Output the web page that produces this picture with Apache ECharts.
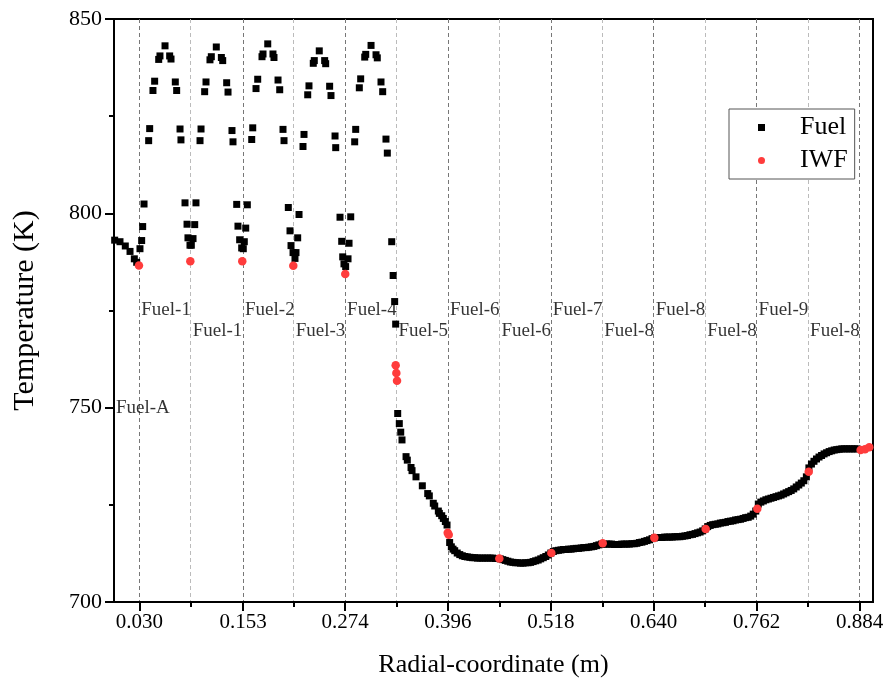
<!DOCTYPE html>
<html><head><meta charset="utf-8">
<script src="https://cdn.jsdelivr.net/npm/echarts@6/dist/echarts.min.js"></script>
<style>html,body{margin:0;padding:0;background:#fff;overflow:hidden}#c{width:889px;height:689px}</style>
</head><body><div id="c"></div><script>
// ---- axis ticks ----
const xMajorTicks = [0.030, 0.153, 0.274, 0.396, 0.518, 0.640, 0.762, 0.884];
const xMinorTicks = [0.091, 0.213, 0.335, 0.457, 0.579, 0.701, 0.823];
const yMin = 700, yMax = 850, yStep = 50;
const xMin = 0, xMax = 0.9;

// ---- Fuel (black squares) ----
const fuelA = [[0.0008,793.1],[0.0071,792.7],[0.0134,791.6],[0.0190,790.2],[0.0241,788.3],[0.0269,787.4]];
const fuel1 = [[0.0308,790.9],[0.0328,793.0],[0.0340,796.6],[0.0356,802.4],[0.0411,818.7],[0.0423,821.8],[0.0462,831.6],[0.0482,834.0],[0.0530,839.6],[0.0545,840.5],[0.0605,843.1],[0.0660,840.5],[0.0676,839.7],[0.0727,833.8],[0.0743,831.6],[0.0783,821.7],[0.0794,818.9],[0.0842,802.7],[0.0866,797.2],[0.0877,793.7],[0.0901,791.8]];
const fuel2 = [[0.0917,791.8],[0.0937,793.5],[0.0957,797.1],[0.0972,802.7],[0.1020,818.7],[0.1032,821.7],[0.1075,831.3],[0.1091,833.8],[0.1138,839.5],[0.1154,840.3],[0.1213,842.8],[0.1273,840.1],[0.1289,839.3],[0.1336,833.6],[0.1352,831.2],[0.1399,821.3],[0.1411,818.4],[0.1455,802.3],[0.1470,796.7],[0.1490,793.2],[0.1514,791.1]];
const fuel3 = [[0.1533,790.9],[0.1545,792.7],[0.1562,796.2],[0.1581,802.2],[0.1633,819.0],[0.1645,822.0],[0.1684,832.1],[0.1704,834.5],[0.1755,840.3],[0.1767,841.0],[0.1823,843.6],[0.1885,841.0],[0.1897,840.1],[0.1945,834.3],[0.1965,831.8],[0.2004,821.6],[0.2016,818.7],[0.2067,801.5],[0.2087,795.5],[0.2099,791.7],[0.2123,789.9]];
const fuel4 = [[0.2146,788.4],[0.2158,789.9],[0.2178,793.7],[0.2194,799.7],[0.2241,817.2],[0.2253,820.3],[0.2297,830.5],[0.2312,832.8],[0.2363,838.6],[0.2375,839.3],[0.2434,841.8],[0.2498,839.3],[0.2510,838.5],[0.2557,832.7],[0.2573,830.3],[0.2621,819.9],[0.2629,816.9],[0.2680,799.0],[0.2700,792.8],[0.2712,788.8],[0.2727,787.0]];
const fuel5 = [[0.2747,786.3],[0.2775,788.3],[0.2787,792.3],[0.2807,799.1],[0.2854,818.4],[0.2866,821.6],[0.2909,832.3],[0.2925,834.6],[0.2973,840.2],[0.2985,840.9],[0.3048,843.2],[0.3107,840.8],[0.3122,840.0],[0.3166,833.8],[0.3186,831.3],[0.3225,819.1],[0.3241,815.5],[0.3293,792.7],[0.3310,784.0],[0.3328,777.3],[0.3340,771.5]];
const fuelDescent = [[0.3364,748.5],[0.3383,745.9],[0.3400,743.7],[0.3415,741.7],[0.3463,737.4],[0.3478,736.5],[0.3522,734.6],[0.3534,733.8],[0.3581,732.2],[0.3656,729.9],[0.3720,727.9],[0.3739,727.3],[0.3786,725.4],[0.3803,724.7],[0.3846,723.4],[0.3858,722.8],[0.3886,722.2],[0.3905,721.5],[0.3929,720.7],[0.3949,719.8]];
const fuelCurveA = [[0.398,715.3],[0.400,714.2],[0.402,713.6],[0.404,713.2],[0.407,712.6],[0.410,712.2],[0.413,711.9],[0.416,711.7],[0.419,711.6],[0.422,711.5],[0.425,711.4],[0.428,711.4],[0.431,711.3],[0.434,711.3],[0.437,711.3],[0.440,711.3],[0.443,711.3],[0.446,711.3],[0.449,711.3],[0.452,711.2],[0.455,711.2],[0.458,711.1],[0.461,710.9],[0.464,710.7],[0.467,710.5],[0.470,710.3],[0.473,710.2],[0.476,710.1],[0.479,710.1],[0.482,710.0],[0.485,710.0],[0.488,710.1],[0.491,710.1],[0.494,710.2],[0.497,710.4],[0.500,710.6],[0.503,710.8],[0.506,711.1],[0.509,711.4],[0.512,711.7],[0.515,712.1],[0.518,712.6]];
const fuelCurveB = [[0.521,713.0],[0.524,713.2],[0.527,713.3],[0.530,713.4],[0.533,713.5],[0.536,713.5],[0.539,713.6],[0.542,713.6],[0.545,713.7],[0.548,713.8],[0.551,713.8],[0.554,713.9],[0.557,714.0],[0.560,714.0],[0.563,714.1],[0.566,714.2],[0.569,714.3],[0.572,714.5],[0.575,714.7],[0.578,714.9],[0.581,714.9],[0.584,714.9],[0.587,714.9],[0.590,714.9],[0.593,714.8],[0.596,714.8],[0.599,714.8],[0.602,714.9],[0.605,714.9],[0.608,714.9],[0.611,714.9],[0.614,715.0],[0.617,715.0],[0.620,715.1],[0.623,715.3],[0.626,715.4],[0.629,715.6],[0.632,715.8],[0.635,716.0],[0.638,716.3],[0.641,716.5]];
const fuelCurveC = [[0.644,716.6],[0.647,716.6],[0.650,716.6],[0.653,716.7],[0.656,716.7],[0.659,716.7],[0.662,716.7],[0.665,716.8],[0.668,716.8],[0.671,716.8],[0.674,716.9],[0.677,717.0],[0.680,717.1],[0.683,717.3],[0.686,717.4],[0.689,717.6],[0.692,717.8],[0.695,718.0],[0.698,718.3],[0.701,718.8],[0.704,719.4],[0.707,719.7],[0.710,719.9],[0.713,720.0],[0.716,720.1],[0.719,720.3],[0.722,720.4],[0.725,720.5],[0.728,720.7],[0.731,720.8],[0.734,720.9],[0.737,721.1],[0.740,721.2],[0.743,721.3],[0.746,721.5],[0.749,721.7],[0.752,721.8],[0.755,722.1],[0.758,722.6],[0.761,723.4]];
const fuelCurveD = [[0.764,725.2],[0.767,725.7],[0.770,726.0],[0.773,726.3],[0.776,726.5],[0.779,726.7],[0.782,726.9],[0.785,727.1],[0.788,727.3],[0.791,727.5],[0.794,727.8],[0.797,728.1],[0.800,728.4],[0.803,728.7],[0.806,729.1],[0.809,729.6],[0.812,730.1],[0.815,730.6],[0.818,731.2],[0.821,732.2],[0.824,734.5],[0.827,735.5],[0.830,736.2],[0.833,736.8],[0.836,737.3],[0.839,737.7],[0.842,738.1],[0.845,738.4],[0.848,738.7],[0.851,738.9],[0.854,739.1],[0.857,739.2],[0.860,739.3],[0.863,739.4],[0.866,739.4],[0.869,739.4],[0.872,739.4],[0.875,739.4],[0.878,739.4],[0.881,739.4]];

// ---- IWF (red circles) ----
const iwf = [[0.0296,786.6],[0.0905,787.7],[0.1521,787.7],[0.2126,786.5],[0.2742,784.4],[0.3340,760.9],[0.3348,758.9],[0.3356,756.9],[0.3957,717.8],[0.3969,717.3],[0.4569,711.2],[0.5186,712.6],[0.5795,715.1],[0.6407,716.5],[0.7016,718.8],[0.7628,724.0],[0.8238,733.5],[0.8853,739.1],[0.8905,739.3],[0.8956,739.8]];

// ---- annotations ----
const annText = ['Fuel-A','Fuel-1','Fuel-1','Fuel-2','Fuel-3','Fuel-4','Fuel-5','Fuel-6','Fuel-6','Fuel-7','Fuel-8','Fuel-8','Fuel-8','Fuel-9','Fuel-8'];
const annX = [0.000, 0.030, 0.091, 0.153, 0.213, 0.274, 0.335, 0.396, 0.457, 0.518, 0.579, 0.640, 0.701, 0.762, 0.823];
const annY = [750, 775.0, 769.8, 775.0, 769.8, 775.0, 769.8, 775.0, 769.8, 775.0, 769.8, 775.0, 769.8, 775.0, 769.8];

const FONT = '"Liberation Serif", "Times New Roman", serif';
const fuel = [].concat(fuelA, fuel1, fuel2, fuel3, fuel4, fuel5, fuelDescent, fuelCurveA, fuelCurveB, fuelCurveC, fuelCurveD);
const ann = annText.map((t, i) => ({ name: t, value: [annX[i], annY[i]] }));

const chart = echarts.init(document.getElementById('c'), null, { renderer: 'canvas' });
chart.setOption({
  animation: false,
  backgroundColor: '#fff',
  grid: { left: 114, right: 16, top: 19, bottom: 87, show: true, borderColor: '#000', borderWidth: 2, backgroundColor: 'transparent' },
  legend: {
    orient: 'vertical', left: 729, top: 109,
    data: ['Fuel', 'IWF'],
    itemWidth: 7, itemHeight: 7, itemGap: 4,
    padding: [4, 7, 4, 29],
    borderColor: '#555', borderWidth: 1, backgroundColor: '#fff',
    textStyle: { fontFamily: FONT, fontSize: 26, color: '#000', lineHeight: 29, padding: [0, 0, 0, 30] }
  },
  xAxis: [{
    type: 'value', min: xMin, max: xMax, position: 'bottom',
    name: 'Radial-coordinate (m)', nameLocation: 'middle', nameGap: 50,
    nameTextStyle: { fontFamily: FONT, fontSize: 26, color: '#000' },
    axisLine: { show: true, onZero: false, lineStyle: { color: '#000', width: 2 } },
    axisTick: { show: true, inside: false, length: 9, lineStyle: { color: '#000', width: 2 }, customValues: xMajorTicks },
    axisLabel: { show: true, margin: 10, fontFamily: FONT, fontSize: 21, color: '#000', customValues: xMajorTicks, formatter: v => Number(v).toFixed(3) },
    splitLine: { show: true, lineStyle: { color: '#777', width: 1, type: [4, 3] } }
  }, {
    type: 'value', min: xMin, max: xMax, position: 'bottom',
    axisLine: { show: false, onZero: false },
    axisTick: { show: true, inside: false, length: 5, lineStyle: { color: '#000', width: 2 }, customValues: xMinorTicks },
    axisLabel: { show: false },
    splitLine: { show: true, lineStyle: { color: '#bbb', width: 1, type: [4, 3] } }
  }],
  yAxis: {
    type: 'value', min: yMin, max: yMax, interval: yStep,
    name: 'Temperature (K)', nameLocation: 'middle', nameGap: 74, nameRotate: 90,
    nameTextStyle: { fontFamily: FONT, fontSize: 30, color: '#000' },
    axisLine: { show: true, onZero: false, lineStyle: { color: '#000', width: 2 } },
    axisTick: { show: true, inside: false, length: 9, lineStyle: { color: '#000', width: 2 } },
    minorTick: { show: true, splitNumber: 2, length: 5, lineStyle: { color: '#000', width: 2 } },
    axisLabel: { margin: 12, fontFamily: FONT, fontSize: 22, color: '#000' },
    splitLine: { show: false }
  },
  series: [
    { name: 'Fuel', type: 'scatter', symbol: 'rect', symbolSize: 7, data: fuel, itemStyle: { color: '#000', opacity: 1 }, z: 3, silent: true },
    { name: 'IWF', type: 'scatter', symbol: 'circle', symbolSize: 8.5, data: iwf, itemStyle: { color: '#ff3c3c', opacity: 1 }, z: 4, silent: true },
    { name: 'labels', type: 'scatter', symbolSize: 0, data: ann, silent: true, z: 5,
      label: { show: true, position: 'right', distance: 2, formatter: p => p.name, fontFamily: FONT, fontSize: 19, color: '#000' } }
  ]
});
</script></body></html>
